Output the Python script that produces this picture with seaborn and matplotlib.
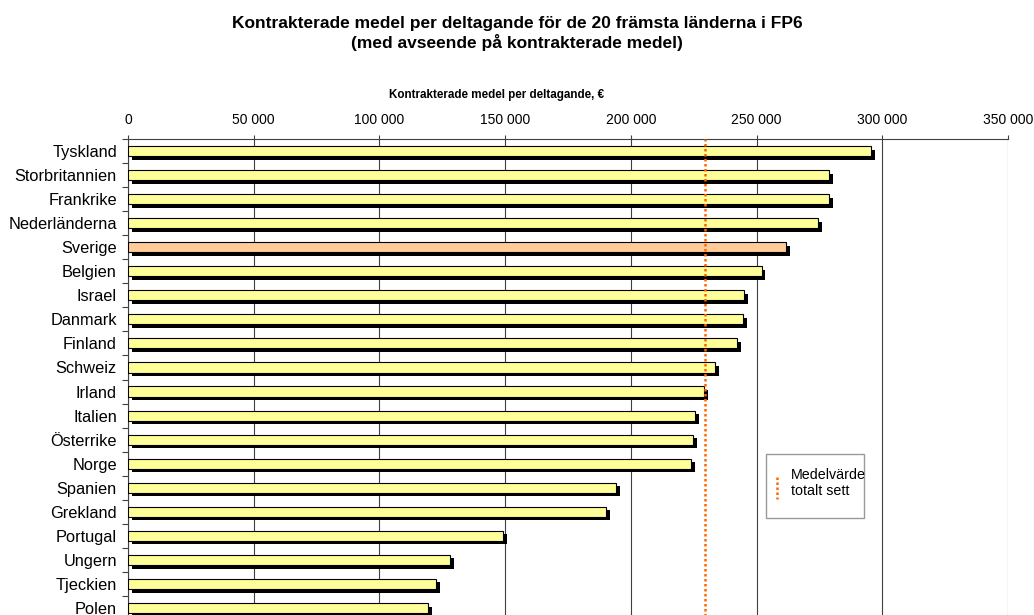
import numpy as np
import pandas as pd
import matplotlib
matplotlib.use("Agg")
import matplotlib.pyplot as plt
import matplotlib.patheffects as pe
from matplotlib.ticker import FuncFormatter
from matplotlib.lines import Line2D
from matplotlib.patches import Rectangle
import seaborn as sns

# Data
countries = ["Tyskland", "Storbritannien", "Frankrike", "Nederländerna", "Sverige",
             "Belgien", "Israel", "Danmark", "Finland", "Schweiz", "Irland", "Italien",
             "Österrike", "Norge", "Spanien", "Grekland", "Portugal", "Ungern",
             "Tjeckien", "Polen"]
values = [295700, 279000, 278800, 274300, 261700, 252000, 245000, 244800, 242400,
          233400, 229000, 225700, 224900, 224000, 194000, 190300, 149200, 128200,
          122500, 119200]
mean_value = 229400
highlight = "Sverige"

df = pd.DataFrame({"Land": countries, "Medel": values})
palette = {c: ("#FFCC99" if c == highlight else "#FFFF99") for c in countries}

sns.set_style("white")
plt.rcParams["font.family"] = ["Liberation Sans", "DejaVu Sans"]
plt.rcParams["text.color"] = "black"
plt.rcParams["xtick.color"] = "black"
plt.rcParams["ytick.color"] = "black"

fig = plt.figure(figsize=(10.34, 6.15), dpi=100)
ax = fig.add_axes([128 / 1034, -5 / 615, 880 / 1034, 481 / 615])

sns.barplot(data=df, y="Land", x="Medel", hue="Land", palette=palette, legend=False,
            orient="h", width=0.42, saturation=1, edgecolor="black", linewidth=0.8,
            ax=ax, zorder=3)

# drop shadow under each bar
shadow = [pe.SimplePatchShadow(offset=(2.8, -2.6), shadow_rgbFace="black", alpha=1.0),
          pe.Normal()]
for p in ax.patches:
    p.set_path_effects(shadow)

ax.axvline(mean_value, color="#FF6600", linestyle=(0, (1, 1)), linewidth=1.8, zorder=4)

ax.set_xlim(0, 350000)
ax.set_ylim(19.5, -0.5)
ax.set_xticks(np.arange(0, 350001, 50000))
ax.xaxis.set_major_formatter(FuncFormatter(lambda v, _: f"{int(v):,}".replace(",", " ")))
ax.xaxis.tick_top()
ax.tick_params(axis="x", which="major", direction="out", length=3, width=0.8,
               color="#404040", labelsize=10, pad=5.5)
ax.grid(axis="x", color="#404040", linewidth=0.8)
ax.set_axisbelow(True)

ax.set_yticks(np.arange(-0.5, 20, 1), minor=True)
ax.tick_params(axis="y", which="major", length=0, labelsize=11.8, pad=8)
ax.tick_params(axis="y", which="minor", direction="out", length=4, width=0.8,
               color="#404040", left=True)
ax.set_xlabel("")
ax.set_ylabel("")

for side in ["right", "bottom"]:
    ax.spines[side].set_visible(False)
for side in ["top", "left"]:
    ax.spines[side].set_color("#404040")
    ax.spines[side].set_linewidth(0.8)

fig.text(517 / 1034, 1 - 33.5 / 615,
         "Kontrakterade medel per deltagande för de 20 främsta länderna i FP6\n"
         "(med avseende på kontrakterade medel)",
         ha="center", va="center", fontsize=12.5, fontweight="bold", linespacing=1.2)
fig.text(497 / 1034, 1 - 95 / 615, "Kontrakterade medel per deltagande, €",
         ha="center", va="center", fontsize=8.4, fontweight="bold")

# legend box
fig.patches.append(Rectangle((766 / 1034, 1 - 518 / 615), 98 / 1034, 64 / 615,
                             transform=fig.transFigure, facecolor="white",
                             edgecolor="#999999", linewidth=1, zorder=5))
fig.lines.append(Line2D([777 / 1034, 777 / 1034], [1 - 477 / 615, 1 - 499 / 615],
                        transform=fig.transFigure, color="#FF6600",
                        linestyle=(0, (1, 1)), linewidth=1.8, zorder=6))
fig.text(791 / 1034, 1 - 483 / 615, "Medelvärde\ntotalt sett", ha="left", va="center",
         fontsize=10.3, linespacing=1.25, zorder=6)

fig.savefig("out.png", dpi=100)
